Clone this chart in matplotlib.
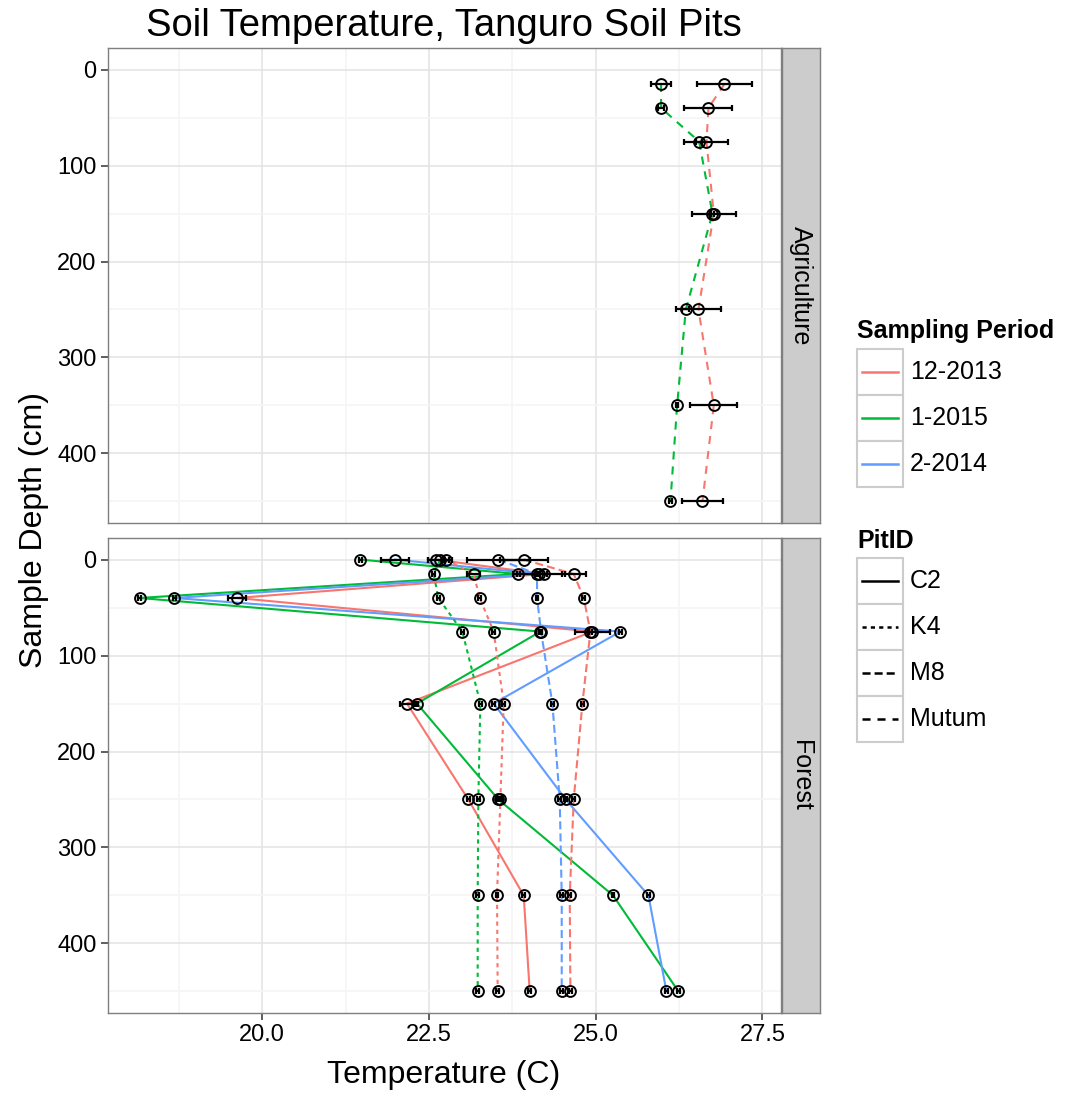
import matplotlib.pyplot as plt
from matplotlib.lines import Line2D
from matplotlib.patches import Rectangle

plt.rcParams['font.family'] = ['Liberation Sans', 'DejaVu Sans']
plt.rcParams['lines.scale_dashes'] = False

W, H = 1065, 1096

# Legend categories
periods = ['12-2013', '1-2015', '2-2014']
period_colors = ['#F8766D', '#00BA38', '#619CFF']
pits = ['C2', 'K4', 'M8', 'Mutum']
pit_styles = ['-', (0, (3.0, 3.0)), (0, (5.8, 2.9)), (0, (5.8, 5.0))]

# Depths (cm)
agri_depth = [15, 40, 75, 150, 250, 350, 450]
forest_depth = [0, 15, 40, 75, 150, 250, 350, 450]

# Agriculture - Mutum
mutum_1213_temp = [26.93, 26.69, 26.66, 26.77, 26.54, 26.77, 26.60]
mutum_1213_se = [0.41, 0.36, 0.33, 0.33, 0.34, 0.35, 0.31]
mutum_0115_temp = [25.98, 25.98, 26.55, 26.75, 26.35, 26.22, 26.12]
mutum_0115_se = [0.15, 0.05, 0.05, 0.02, 0.05, 0.02, 0.02]

# Forest - C2
c2_1213_temp = [22.60, 24.22, 19.62, 24.95, 22.17, 23.09, 23.92, 24.01]
c2_1213_se = [0.12, 0.05, 0.13, 0.26, 0.10, 0.02, 0.02, 0.02]
c2_0115_temp = [21.47, 23.84, 18.16, 24.17, 22.32, 23.54, 25.26, 26.24]
c2_0115_se = [0.02, 0.02, 0.02, 0.02, 0.02, 0.02, 0.02, 0.02]
c2_0214_temp = [21.99, 24.15, 18.68, 25.37, 23.47, 24.55, 25.79, 26.06]
c2_0214_se = [0.21, 0.39, 0.02, 0.02, 0.02, 0.02, 0.02, 0.02]

# Forest - K4
k4_1213_temp = [22.75, 23.17, 23.26, 23.47, 23.62, 23.57, 23.52, 23.53]
k4_1213_se = [0.05, 0.10, 0.02, 0.02, 0.02, 0.02, 0.02, 0.02]
k4_0115_temp = [22.67, 22.57, 22.64, 23.00, 23.27, 23.24, 23.23, 23.23]
k4_0115_se = [0.18, 0.02, 0.02, 0.02, 0.02, 0.02, 0.02, 0.02]

# Forest - M8
m8_1213_temp = [23.92, 24.67, 24.82, 24.92, 24.80, 24.67, 24.61, 24.62]
m8_1213_se = [0.36, 0.18, 0.02, 0.02, 0.02, 0.02, 0.02, 0.02]
m8_0214_temp = [23.54, 24.12, 24.12, 24.18, 24.35, 24.46, 24.49, 24.49]
m8_0214_se = [0.47, 0.02, 0.02, 0.02, 0.02, 0.02, 0.02, 0.02]

# (panel, period index, pit index, depth, temp, se)
series = [
    (0, 0, 3, agri_depth, mutum_1213_temp, mutum_1213_se),
    (0, 1, 3, agri_depth, mutum_0115_temp, mutum_0115_se),
    (1, 0, 0, forest_depth, c2_1213_temp, c2_1213_se),
    (1, 1, 0, forest_depth, c2_0115_temp, c2_0115_se),
    (1, 2, 0, forest_depth, c2_0214_temp, c2_0214_se),
    (1, 0, 1, forest_depth, k4_1213_temp, k4_1213_se),
    (1, 1, 1, forest_depth, k4_0115_temp, k4_0115_se),
    (1, 0, 2, forest_depth, m8_1213_temp, m8_1213_se),
    (1, 2, 2, forest_depth, m8_0214_temp, m8_0214_se),
]
panel_names = ['Agriculture', 'Forest']


def fx(x):
    return x / W


def fy(y):
    return 1 - y / H


fig = plt.figure(figsize=(W / 100, H / 100), dpi=100)

panel_px = [(48, 523), (538, 1013)]
left_px, right_px = 107.5, 780.5
axes = []
for i, (top, bot) in enumerate(panel_px):
    ax = fig.add_axes([fx(left_px), fy(bot), fx(right_px - left_px), (bot - top) / H])
    ax.set_xlim(17.68, 27.77)
    ax.set_ylim(472.5, -22.5)
    ax.set_xticks([20.0, 22.5, 25.0, 27.5])
    ax.set_xticks([18.75, 21.25, 23.75, 26.25], minor=True)
    ax.set_yticks([0, 100, 200, 300, 400])
    ax.set_yticks([50, 150, 250, 350, 450], minor=True)
    ax.grid(which='major', color='#E5E5E5', linewidth=1.2)
    ax.grid(which='minor', color='#F5F5F5', linewidth=1.2)
    ax.set_axisbelow(True)
    for s in ax.spines.values():
        s.set_color('#7F7F7F')
        s.set_linewidth(1.0)
    ax.tick_params(which='major', length=5, width=1.1, color='#333333',
                   labelsize=17, labelcolor='black', pad=3)
    ax.tick_params(which='minor', length=0)
    if i == 0:
        ax.tick_params(axis='x', which='both', bottom=False, labelbottom=False)
    ax.set_yticklabels(['0', '100', '200', '300', '400'])
    axes.append(ax)

    # strip
    sax = fig.add_axes([fx(781.5), fy(bot), fx(820 - 781.5), (bot - top) / H])
    sax.set_facecolor('#CCCCCC')
    sax.set_xticks([])
    sax.set_yticks([])
    for s in sax.spines.values():
        s.set_color('#7F7F7F')
        s.set_linewidth(1.0)
    sax.text(0.5, 0.5, panel_names[i], rotation=-90, ha='center', va='center',
             fontsize=18, transform=sax.transAxes)

axes[1].set_xticklabels(['20.0', '22.5', '25.0', '27.5'])

# lines
for p, ci, pi, d, t, se in series:
    axes[p].plot(t, d, color=period_colors[ci], linestyle=pit_styles[pi],
                 linewidth=1.5, dash_capstyle='butt', zorder=2)
# points
for p, ci, pi, d, t, se in series:
    axes[p].plot(t, d, linestyle='none', marker='o', markersize=7.8,
                 markerfacecolor='none', markeredgecolor='black',
                 markeredgewidth=1.4, zorder=3)
# error bars
for p, ci, pi, d, t, se in series:
    axes[p].errorbar(t, d, xerr=se, fmt='none', ecolor='black',
                     elinewidth=1.6, capsize=2.1, capthick=1.6, zorder=4)

# titles
fig.text(fx(444), fy(26), 'Soil Temperature, Tanguro Soil Pits',
         ha='center', va='center', fontsize=27.5)
fig.text(fx(444), fy(1075), 'Temperature (C)', ha='center', va='center', fontsize=23)
fig.text(fx(34), fy(530), 'Sample Depth (cm)', ha='center', va='center',
         rotation=90, fontsize=23)

# legends
def legend_block(title, title_y, box_top, labels, colors, styles):
    fig.text(fx(857), fy(title_y), title, ha='left', va='center',
             fontsize=18, fontweight='bold')
    for k, lab in enumerate(labels):
        top = box_top + 46 * k
        fig.patches.append(Rectangle((fx(857), fy(top + 46)), fx(46), 46 / H,
                                     transform=fig.transFigure, facecolor='white',
                                     edgecolor='#CCCCCC', linewidth=1.5))
        cy = fy(top + 23)
        fig.lines.append(Line2D([fx(862), fx(898)], [cy, cy], transform=fig.transFigure,
                                color=colors[k], linestyle=styles[k], linewidth=1.8,
                                dash_capstyle='butt'))
        fig.text(fx(910), cy, lab, ha='left', va='center', fontsize=18)


legend_block('Sampling Period', 331, 349, periods, period_colors, ['-'] * 3)
legend_block('PitID', 541, 558, pits, ['black'] * 4, pit_styles)

fig.savefig('out.png', dpi=100)
